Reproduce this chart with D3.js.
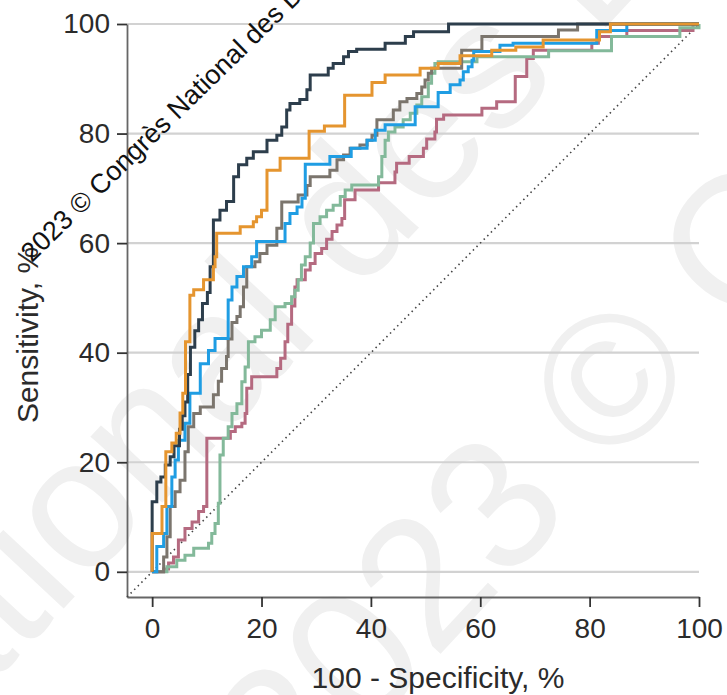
<!DOCTYPE html>
<html>
<head>
<meta charset="utf-8">
<script src="https://cdn.jsdelivr.net/npm/d3@7"></script>
<style>
  html, body { margin: 0; padding: 0; background: #fff; }
  svg { display: block; }
</style>
</head>
<body>
<div id="roc"></div>
<script>
// axis ticks
var tickValues = [0, 20, 40, 60, 80, 100];

// ROC curves, [100 - specificity, sensitivity]
var navyCurve = [[0,0],[0,12.8],[0.85,16.4],[1.6,17.3],[2.4,19.5],[3.3,21],[4,23],[5,26],[5.5,28.5],[6,31],[6.5,36],[7,41],[7.8,44],[8.5,46],[9.2,49],[10.1,51],[10.6,55.7],[11.2,64.2],[12.4,66],[13.6,67.6],[14.9,72.1],[15.8,74.3],[17.3,75.5],[18.5,76.7],[21,78.8],[22.8,79.7],[23.7,81.2],[24.6,84.3],[25.2,85.5],[27,86.2],[28.3,88],[28.9,90.7],[32.2,91.9],[33.1,92.8],[35,94],[35.9,95],[37.4,95.4],[42.6,96.5],[46.3,97.7],[47.8,98.6],[54.2,100],[100,100]];
var orangeCurve = [[0,0],[0,7],[1.8,11.9],[2.5,21.9],[3.6,23.5],[4.4,25.3],[5.1,29],[5.6,32.6],[6.1,42],[6.9,50.5],[7.6,51.5],[9.4,53.3],[11.2,55.7],[11.5,57.5],[11.8,61.8],[16.1,63],[18.5,63.9],[19.1,64.8],[20,66],[21,73.3],[23.4,75.5],[28.7,80.4],[31.5,81.4],[35.2,87],[40.2,89.3],[42.6,90.7],[49,91.9],[52.3,92.8],[56.3,94.2],[62.1,95.2],[66.5,95.8],[71.5,97.1],[81.8,98.6],[83.8,100],[100,100]];
var blueCurve = [[0,0],[0.85,4.6],[2.1,7],[2.7,11.9],[3.6,17.3],[4.2,20.4],[4.8,24],[6,27.1],[6.9,32.6],[8.8,38],[10.3,40.4],[11.5,42.6],[13.9,49.6],[14.6,52],[15.5,53.9],[16.7,55.7],[18.2,57.5],[19.1,60.3],[24.3,63.6],[25.2,65.4],[26.5,66.6],[27.4,68.2],[28,74.4],[32.5,75.8],[36.4,77.3],[39.3,78.8],[40.8,80.6],[42.6,81.6],[48.1,84.9],[52.3,87.5],[54.5,88.9],[56.3,89.8],[56.9,91.3],[57.8,92.2],[58.5,93.4],[58.8,95],[63.6,96.1],[66,96.5],[81.3,98.8],[86.8,100],[100,100]];
var grayCurve = [[0,0],[2.1,2.7],[2.7,6.4],[3.3,11.9],[4.2,14.6],[5.1,16.7],[6,21.9],[6.6,26.5],[7.6,28.9],[8.8,30.1],[11.2,32.3],[12.1,34.8],[12.7,37.1],[13.6,39.3],[13.9,42.5],[14.6,45.5],[15.5,46.6],[16.1,48.4],[16.7,52],[17.3,55.7],[18.8,56.6],[19.7,58.1],[21,59.6],[22.8,62.7],[23.7,67.5],[26.7,68.8],[28.3,70.5],[28.9,72.1],[32.5,73.3],[33.8,75.2],[35,76.1],[36.2,77.3],[38,77.9],[39.3,78.8],[40.2,79.7],[41.1,82.5],[44.1,84.3],[45.3,85.8],[46.6,86.4],[48.4,87.3],[49.3,88.5],[49.9,89.8],[50.5,91],[51.1,91.9],[56.6,95.2],[60.3,97.7],[74.3,98.9],[77.8,100],[100,100]];
var greenCurve = [[0,0],[2.7,0.9],[4.5,2.1],[6,3],[7.6,4.3],[10.3,5.2],[10.9,7],[11.5,8.8],[12.1,12.5],[12.4,21.3],[13,24.4],[13.9,26.5],[14.6,28.9],[15.5,30.7],[16.4,34.7],[17,37.4],[17.6,42],[18.8,42.9],[20,44.1],[21.6,46],[22.5,48.4],[24.3,49],[25.5,50.2],[26.1,51.4],[26.7,53.3],[27.3,56],[28,57.5],[28.9,60],[29.5,63.6],[30.7,64.8],[31.9,66],[33.1,66.9],[34.4,68.5],[35.3,69.7],[36.5,70.6],[41.4,72.1],[42,75.8],[42.6,78.8],[43.2,80.3],[44.4,81.2],[45.9,82.5],[47.2,83.7],[48.4,85.2],[49.3,86.7],[50.5,89.2],[51.1,91],[51.7,92.8],[52.3,93.1],[59.4,94],[72.5,95.1],[84,97.7],[96.5,99.3],[100,100]];
var pinkCurve = [[0,0],[2.1,0.5],[3,1.6],[3.9,2.7],[4.8,5.8],[6,7.9],[7.3,9.1],[8.5,11],[9.4,11.9],[10,24.4],[14.3,25.6],[15.2,26.5],[16.4,27.1],[17,28.9],[17.3,33.5],[18.2,35.6],[22.8,37.1],[23.5,39],[24.3,42],[24.8,45.2],[25.5,48.5],[26.1,52],[26.5,53.3],[28,55.1],[28.9,56.3],[29.8,58.1],[31,59],[31.9,60.7],[32.9,62.1],[33.8,63.3],[34.7,64.5],[35.2,67.9],[37.1,69.7],[41.4,71],[44.4,73],[44.7,74.6],[47,75.8],[49.6,77.3],[50.2,79],[51.7,80.3],[52,82.6],[53.3,83.4],[60.3,84.6],[63,85.8],[66.4,90.4],[68.5,93.7],[69.7,95.2],[80.4,96.5],[81.6,97.7],[86.8,98.8],[98.9,100],[100,100]];

// chance line runs from the axis corner to the top right
var chanceLine = [[-4.6,-4.6],[100,100]];

// faint background watermark lines
var watermarkLines = ["2023 © Congrès National", "National des D"];

var width = 727, height = 695;
var font = '"Liberation Sans", Arial, sans-serif';

var svg = d3.select("#roc")
  .append("svg")
  .attr("width", width)
  .attr("height", height);

// big faint watermark behind everything
var wmPos = [[294, 811], [-141, 828]];
svg.append("g")
  .selectAll("text")
  .data(watermarkLines)
  .enter().append("text")
    .attr("transform", function(d, i){ return "translate(" + wmPos[i][0] + "," + wmPos[i][1] + ") rotate(-47)"; })
    .attr("fill", "#f0f0f0")
    .style("font-family", font)
    .style("font-size", "185px")
    .text(function(d){ return d; });

var x = d3.scaleLinear().domain([-4.6, 100]).range([127, 699]);
var y = d3.scaleLinear().domain([-4.6, 100]).range([597, 24]);

// gridlines
svg.append("g")
  .selectAll("line")
  .data(tickValues)
  .enter().append("line")
    .attr("x1", x(-4.6))
    .attr("x2", x(100))
    .attr("y1", function(d){ return y(d); })
    .attr("y2", function(d){ return y(d); })
    .attr("stroke", "#d2d2d2")
    .attr("stroke-width", 2.2);

// axes
var yAxis = svg.append("g")
  .attr("transform", "translate(" + x(-4.6) + ",0)")
  .call(d3.axisLeft(y).tickValues(tickValues).tickSize(10).tickSizeOuter(0).tickPadding(7));

var xAxis = svg.append("g")
  .attr("transform", "translate(0," + y(-4.6) + ")")
  .call(d3.axisBottom(x).tickValues(tickValues).tickSize(10).tickSizeOuter(0).tickPadding(11));

[xAxis, yAxis].forEach(function(a){
  a.select(".domain").attr("stroke", "#666").attr("stroke-width", 1.8);
  a.selectAll(".tick line").attr("stroke", "#333").attr("stroke-width", 1.8);
  a.selectAll(".tick text")
    .attr("fill", "#2b2b2b")
    .style("font-family", font)
    .style("font-size", "28px");
});

// dotted reference line
svg.append("path")
  .datum(chanceLine)
  .attr("fill", "none")
  .attr("stroke", "#444")
  .attr("stroke-width", 1.6)
  .attr("stroke-dasharray", "1.5,3.6")
  .attr("d", d3.line().x(function(d){ return x(d[0]); }).y(function(d){ return y(d[1]); }));

// ROC step curves, bottom layer first
var curves = [
  {data: pinkCurve,   color: "#b56a80"},
  {data: greenCurve,  color: "#83b99a"},
  {data: grayCurve,   color: "#7b756d"},
  {data: blueCurve,   color: "#1f9de3"},
  {data: navyCurve,   color: "#2d3e4c"},
  {data: orangeCurve, color: "#e5952f"}
];

var stepLine = d3.line()
  .curve(d3.curveStepAfter)
  .x(function(d){ return x(d[0]); })
  .y(function(d){ return y(d[1]); });

svg.append("g")
  .selectAll("path")
  .data(curves)
  .enter().append("path")
    .attr("fill", "none")
    .attr("stroke", function(d){ return d.color; })
    .attr("stroke-width", 3)
    .attr("d", function(d){ return stepLine(d.data); });

// axis titles
svg.append("text")
  .attr("x", 438)
  .attr("y", 688)
  .attr("text-anchor", "middle")
  .attr("fill", "#2b2b2b")
  .style("font-family", font)
  .style("font-size", "30px")
  .text("100 - Specificity, %");

svg.append("text")
  .attr("transform", "translate(38,335) rotate(-90)")
  .attr("text-anchor", "middle")
  .attr("fill", "#2b2b2b")
  .style("font-family", font)
  .style("font-size", "30px")
  .text("Sensitivity, %");

// copyright stamp over the plot
svg.append("text")
  .attr("transform", "translate(31.7,263.3) rotate(-44.3)")
  .attr("fill", "#111")
  .style("font-family", font)
  .style("font-size", "27px")
  .text("2023 © Congrès National des D");
</script>
</body>
</html>
